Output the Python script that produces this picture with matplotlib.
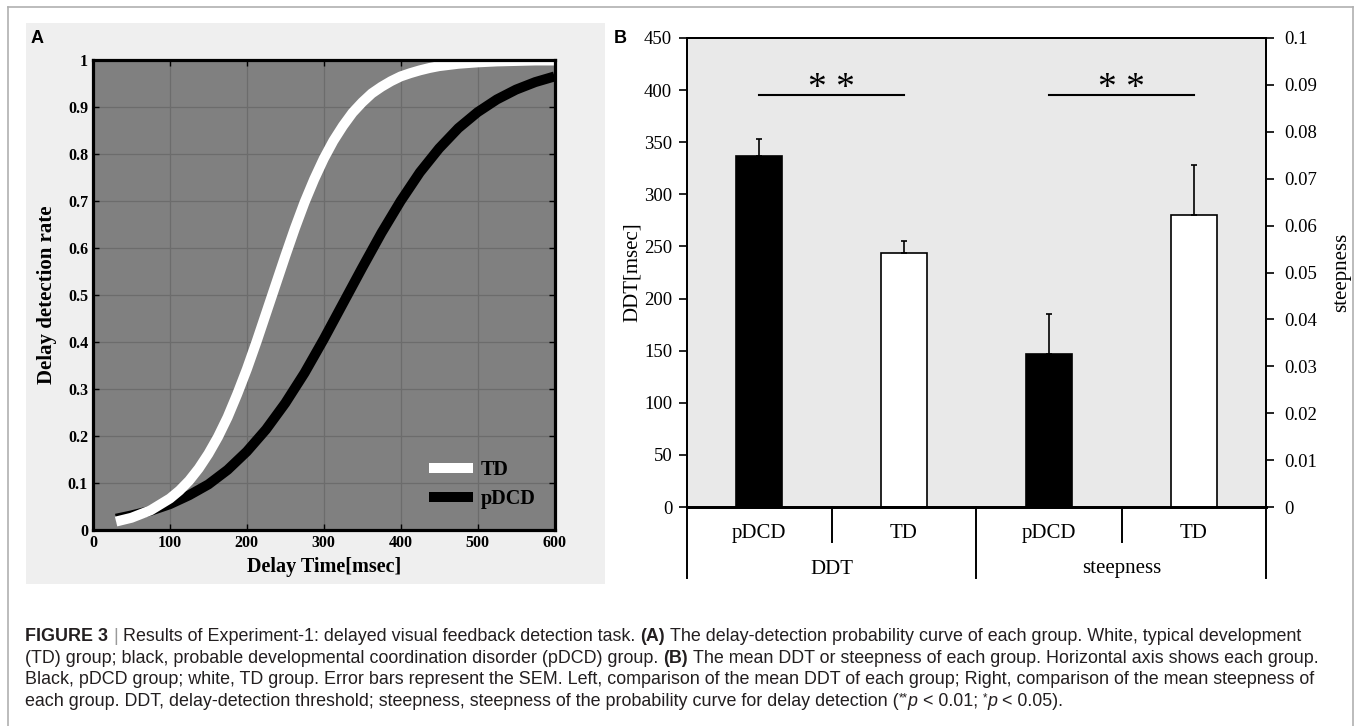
import matplotlib
matplotlib.use('Agg')
import matplotlib.pyplot as plt
from matplotlib.lines import Line2D
from matplotlib.patches import Rectangle
import matplotlib.transforms as mtransforms

# ---------------- data ----------------
td_delay_ms = [30, 50, 75, 100, 112.5, 125, 137.5, 150, 162.5, 175, 187.5, 200, 212.5, 225, 237.5,
               250, 262.5, 275, 287.5, 300, 312.5, 325, 337.5, 350, 362.5, 375, 387.5, 400,
               412.5, 425, 437.5, 450, 462.5, 475, 500, 525, 550, 575, 600]
td_rate = [0.018, 0.026, 0.042, 0.067, 0.084, 0.105, 0.131, 0.162, 0.198, 0.240, 0.289, 0.342,
           0.400, 0.461, 0.522, 0.583, 0.642, 0.697, 0.746, 0.790, 0.828, 0.860, 0.888, 0.910,
           0.929, 0.943, 0.955, 0.965, 0.972, 0.978, 0.983, 0.987, 0.9895, 0.992, 0.995,
           0.997, 0.998, 0.999, 0.999]
pdcd_delay_ms = [30, 50, 75, 100, 125, 150, 175, 200, 225, 250, 275, 300,
                 325, 350, 375, 400, 425, 450, 475, 500, 525, 550, 575, 600]
pdcd_rate = [0.024, 0.031, 0.041, 0.055, 0.074, 0.097, 0.128, 0.167, 0.214, 0.270,
             0.334, 0.406, 0.482, 0.558, 0.632, 0.700, 0.761, 0.812, 0.855, 0.889,
             0.916, 0.937, 0.953, 0.965]
curve_labels = ['TD', 'pDCD']
a_xticks = [0, 100, 200, 300, 400, 500, 600]
a_yticks = [0, 0.1, 0.2, 0.3, 0.4, 0.5, 0.6, 0.7, 0.8, 0.9, 1]
a_yticklabels = ['0', '0.1', '0.2', '0.3', '0.4', '0.5', '0.6', '0.7', '0.8', '0.9', '1']

group_labels = ['pDCD', 'TD', 'pDCD', 'TD']
measure_labels = ['DDT', 'steepness']
ddt_mean = [337, 244]
ddt_sem = [16.5, 11.5]
steep_mean = [0.0326, 0.0623]
steep_sem = [0.0085, 0.0107]
ddt_ticks = [0, 50, 100, 150, 200, 250, 300, 350, 400, 450]
steep_ticks = [0, 0.01, 0.02, 0.03, 0.04, 0.05, 0.06, 0.07, 0.08, 0.09, 0.1]
steep_ticklabels = ['0', '0.01', '0.02', '0.03', '0.04', '0.05', '0.06', '0.07', '0.08', '0.09', '0.1']
sig_level = 395
sig_text = '* *'

caption_lines = [
    [('FIGURE 3', 'b'), (' | ', 'g'), ('Results of Experiment-1: delayed visual feedback detection task. ', 'n'),
     ('(A)', 'b'), (' The delay-detection probability curve of each group. White, typical development', 'n')],
    [('(TD) group; black, probable developmental coordination disorder (pDCD) group. ', 'n'), ('(B)', 'b'),
     (' The mean DDT or steepness of each group. Horizontal axis shows each group.', 'n')],
    [('Black, pDCD group; white, TD group. Error bars represent the SEM. Left, comparison of the mean DDT of '
      'each group; Right, comparison of the mean steepness of', 'n')],
    [('each group. DDT, delay-detection threshold; steepness, steepness of the probability curve for delay '
      'detection (', 'n'), ('**', 's'), ('p', 'i'), (' < 0.01; ', 'n'), ('*', 's'), ('p', 'i'), (' < 0.05).', 'n')],
]

# ---------------- figure ----------------
W, H = 1360, 726
plt.rcParams['font.family'] = ['Liberation Serif', 'DejaVu Serif']
fig = plt.figure(figsize=(W / 100, H / 100), dpi=100)
fig.patch.set_facecolor('white')


def fx(px):
    return px / W


def fy(py):
    return 1 - py / H


# outer frame
frame_c = '#b0b0b0'
for xs, ys in [([8, 8], [7, 726]), ([8, 1353], [7, 7]), ([1353, 1353], [7, 726])]:
    fig.add_artist(Line2D([fx(v) for v in xs], [fy(v) for v in ys], color=frame_c, lw=1.2,
                          transform=fig.transFigure))

# panel A background
fig.add_artist(Rectangle((fx(26), fy(584)), (605 - 26) / W, (584 - 23) / H, facecolor='#efefef',
                         edgecolor='none', transform=fig.transFigure, zorder=0))

# ---------------- panel A ----------------
axA = fig.add_axes([fx(93), fy(530), 461.5 / W, 470 / H])
axA.set_facecolor('#808080')
h_pd, = axA.plot(pdcd_delay_ms, pdcd_rate, color='black', lw=7.2, solid_capstyle='butt',
                 solid_joinstyle='round', label=curve_labels[1])
h_td, = axA.plot(td_delay_ms, td_rate, color='white', lw=7.2, solid_capstyle='butt',
                 solid_joinstyle='round', label=curve_labels[0])
axA.set_xlim(0, 600)
axA.set_ylim(0, 1)
axA.set_xticks(a_xticks)
axA.set_yticks(a_yticks)
axA.set_yticklabels(a_yticklabels)
axA.grid(True, color='#6c6c6c', lw=0.9)
axA.set_axisbelow(True)
for sp in axA.spines.values():
    sp.set_linewidth(2.3)
axA.tick_params(direction='in', length=4, width=1, top=True, right=True, labelsize=11.5, pad=3.6)
for lab in axA.get_xticklabels() + axA.get_yticklabels():
    lab.set_fontweight('bold')
axA.set_xlabel('Delay Time[msec]', fontsize=14.5, fontweight='bold')
axA.set_ylabel('Delay detection rate', fontsize=15, fontweight='bold')
axA.xaxis.set_label_coords(0.5, (530 - 567) / 470)
axA.xaxis.label.set_va('center')
axA.yaxis.set_label_coords((47 - 93) / 461.5, 0.5)
axA.yaxis.label.set_va('center')
axA.legend([h_td, h_pd], curve_labels, loc='center left', bbox_to_anchor=(0.728, 0.097),
           frameon=False, borderpad=0, borderaxespad=0, handlelength=2.2, handletextpad=0.35,
           labelspacing=0.45, prop={'weight': 'bold', 'size': 14.5})

# ---------------- panel B ----------------
axB = fig.add_axes([fx(686.5), fy(507), 580 / W, 469 / H])
axB.set_facecolor('#e9e9e9')
axR = axB.twinx()
bar_w = 0.32
axB.bar([0, 1], ddt_mean, width=bar_w, color=['black', 'white'], edgecolor='black', lw=1.2, zorder=2)
axB.errorbar([0, 1], ddt_mean, yerr=[[0, 0], ddt_sem], fmt='none', ecolor='black', elinewidth=1.2,
             capsize=2, capthick=1.2, zorder=3)
axR.bar([2, 3], steep_mean, width=bar_w, color=['black', 'white'], edgecolor='black', lw=1.2, zorder=2)
axR.errorbar([2, 3], steep_mean, yerr=[[0, 0], steep_sem], fmt='none', ecolor='black', elinewidth=1.2,
             capsize=2, capthick=1.2, zorder=3)
axB.set_xlim(-0.5, 3.5)
axB.set_ylim(0, 450)
axR.set_ylim(0, 0.1)
axB.set_yticks(ddt_ticks)
axR.set_yticks(steep_ticks)
axR.set_yticklabels(steep_ticklabels)
axB.set_xticks([0, 1, 2, 3])
axB.set_xticklabels(group_labels)
axB.tick_params(axis='x', length=0, pad=12, labelsize=15)
axB.tick_params(axis='y', direction='out', length=6, width=1.2, labelsize=13.5, pad=4.3)
axR.tick_params(axis='y', direction='out', length=6, width=1.2, labelsize=13.5, pad=6.5)
for ax in (axB, axR):
    for name, sp in ax.spines.items():
        sp.set_linewidth(2.0 if name == 'bottom' else 1.4)
axB.set_ylabel('DDT[msec]', fontsize=15)
axB.yaxis.set_label_coords((632 - 686.5) / 580, 0.5)
axB.yaxis.label.set_va('center')
axR.set_ylabel('steepness', fontsize=15)
axR.yaxis.set_label_coords((1342 - 686.5) / 580, 0.5)
axR.yaxis.label.set_va('center')

trans = mtransforms.blended_transform_factory(axB.transData, axB.transAxes)
long_y = (507 - 578) / 469
short_y = (507 - 542) / 469
for xb, yb in [(-0.5, long_y), (0.5, short_y), (1.5, long_y), (2.5, short_y), (3.5, long_y)]:
    axB.add_line(Line2D([xb, xb], [0, yb], transform=trans, color='black', lw=1.4, clip_on=False))
for xc, lab in zip([0.5, 2.5], measure_labels):
    axB.text(xc, (507 - 569) / 469, lab, transform=trans, ha='center', va='center', fontsize=15)

for x0, x1 in [(0, 1), (2, 3)]:
    axB.plot([x0, x1], [sig_level, sig_level], color='black', lw=1.5, zorder=4)
    axB.text((x0 + x1) / 2, sig_level - 3, sig_text, ha='center', va='baseline', fontsize=27,
             zorder=4)

# panel letters
fig.text(fx(31), fy(43), 'A', fontsize=13, fontweight='bold', family='Liberation Sans', va='baseline')
fig.text(fx(614), fy(43), 'B', fontsize=13, fontweight='bold', family='Liberation Sans', va='baseline')

# ---------------- caption ----------------
renderer = fig.canvas.get_renderer()
cap_size = 12.85
cap_color = '#231f20'
styles = {
    'n': dict(family='Liberation Sans', fontsize=cap_size, color=cap_color),
    'b': dict(family='Liberation Sans', fontsize=cap_size, color=cap_color, fontweight='bold'),
    'g': dict(family='Liberation Sans', fontsize=cap_size, color='#9a9a9a'),
    'i': dict(family='Liberation Sans', fontsize=cap_size, color=cap_color, style='italic'),
    's': dict(family='Liberation Sans', fontsize=cap_size * 0.65, color=cap_color),
}


def width_of(s, kw):
    t = fig.text(0, 0, s, **kw)
    w = t.get_window_extent(renderer).width
    t.remove()
    return w


space_w = width_of('a a', styles['n']) - width_of('aa', styles['n'])
baselines = [641, 663, 684, 706]
for runs, base in zip(caption_lines, baselines):
    x = 25
    for s, st in runs:
        kw = styles[st]
        lead = len(s) - len(s.lstrip(' '))
        trail = len(s) - len(s.rstrip(' '))
        core = s.strip(' ')
        x += lead * space_w
        if core:
            up = 5 if st == 's' else 0
            t = fig.text(fx(x), fy(base - up), core, ha='left', va='baseline', **kw)
            x += t.get_window_extent(renderer).width
        x += trail * space_w

fig.savefig('out.png', dpi=100)
